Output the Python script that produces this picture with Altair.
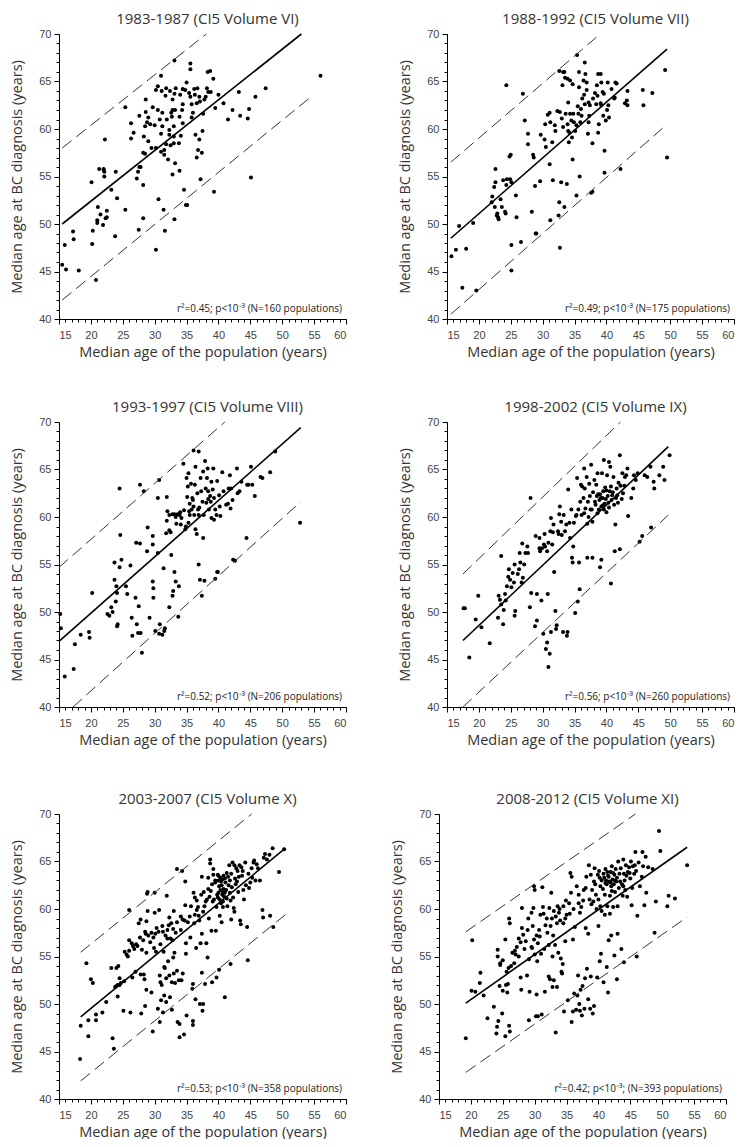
import altair as alt
import pandas as pd

W, H = 287, 285

X_TITLE = "Median age of the population (years)"
Y_TITLE = "Median age at BC diagnosis (years)"
X_MAJOR = [15, 20, 25, 30, 35, 40, 45, 50, 55, 60]
Y_MAJOR = [40, 45, 50, 55, 60, 65, 70]
X_MINOR = list(range(15, 61))
Y_MINOR = list(range(40, 71))

TITLES = ["1983-1987 (CI5 Volume VI)", "1988-1992 (CI5 Volume VII)",
          "1993-1997 (CI5 Volume VIII)", "1998-2002 (CI5 Volume IX)",
          "2003-2007 (CI5 Volume X)", "2008-2012 (CI5 Volume XI)"]
NOTES = ["r\u00b2=0.45; p<10\u207b\u00b3 (N=160 populations)",
         "r\u00b2=0.49; p<10\u207b\u00b3 (N=175 populations)",
         "r\u00b2=0.52; p<10\u207b\u00b3 (N=206 populations)",
         "r\u00b2=0.56; p<10\u207b\u00b3 (N=260 populations)",
         "r\u00b2=0.53; p<10\u207b\u00b3 (N=358 populations)",
         "r\u00b2=0.42; p<10\u207b\u00b3; (N=393 populations)"]

# regression line and prediction band end points (x1, y1, x2, y2)
FIT = [(15.5, 50.0, 53.0, 70.0), (15.6, 48.5, 49.5, 68.4), (15.0, 46.9, 52.9, 69.4),
       (17.5, 47.0, 49.7, 67.4), (18.4, 48.65, 50.5, 66.4), (19.2, 50.1, 53.9, 66.5)]
UPPER = [(15.5, 58.0, 38.1, 70.0), (15.6, 56.5, 39.0, 70.0), (15.0, 54.7, 41.0, 70.0),
         (17.5, 54.0, 42.2, 70.0), (18.4, 55.45, 45.2, 70.0), (19.2, 57.6, 45.8, 70.0)]
LOWER = [(15.5, 42.0, 54.7, 63.5), (15.6, 40.5, 49.5, 60.5), (17.2, 40.0, 52.9, 61.6),
         (17.5, 40.0, 49.7, 60.2), (18.4, 41.9, 50.5, 59.4), (19.2, 42.8, 53.9, 59.15)]

P1 = [(15.5,45.7),(16.1,45.2),(15.9,47.8),(17.2,49.2),(17.3,48.4),(18.1,45.1),(20.8,44.1),(20.2,47.9),(20.3,49.3),(20.1,54.4),
(21.0,50.1),(21.1,51.8),(21.0,50.4),(21.5,51.0),(21.3,55.8),(22.0,55.8),(22.0,55.7),(22.1,55.5),(22.1,55.0),(22.2,58.9),
(21.9,49.9),(22.3,50.6),(22.5,50.7),(22.5,51.4),(23.2,53.6),(23.9,55.5),(23.8,48.7),(24.1,52.7),(25.4,62.3),(25.4,51.5),
(26.3,60.6),(26.3,59.0),(26.7,59.6),(27.2,54.8),(27.4,55.5),(27.6,56.0),(27.8,56.0),(27.6,61.4),(27.5,49.4),(28.2,54.1),
(28.2,50.6),(28.2,57.5),(28.5,57.4),(28.3,59.2),(28.5,60.3),(28.6,63.1),(28.6,61.8),(28.8,60.7),(29.0,58.7),(29.0,61.2),
(29.3,60.5),(29.5,58.0),(29.7,62.3),(30.0,60.4),(30.2,58.0),(30.2,47.3),(30.2,64.1),(30.5,64.5),(30.5,62.0),(30.6,52.6),
(30.8,61.0),(31.0,57.6),(31.0,59.5),(31.0,65.6),(31.1,64.0),(31.2,61.7),(31.2,60.3),(31.4,51.5),(31.5,57.8),(31.5,57.3),
(31.6,49.3),(31.7,63.5),(31.8,64.3),(31.8,58.4),(31.9,61.0),(32.1,56.8),(32.3,59.9),(32.3,59.4),(32.4,64.0),(32.5,58.3),
(32.6,61.7),(32.7,61.3),(32.8,55.2),(32.8,63.1),(32.8,62.0),(33.0,60.3),(33.0,59.2),(33.0,58.5),(33.1,67.2),(33.1,50.5),
(33.1,63.7),(33.2,56.4),(33.3,64.3),(33.2,62.0),(33.8,58.5),(33.9,55.6),(33.9,61.3),(34.0,63.6),(34.1,59.3),(34.3,62.0),
(34.4,62.6),(34.4,64.2),(34.4,60.6),(34.6,53.6),(34.8,64.1),(34.9,52.0),(35.1,52.0),(35.0,64.9),(35.4,63.8),(35.6,63.4),
(35.6,66.9),(35.6,66.3),(35.8,62.6),(35.8,61.2),(36.0,61.7),(36.2,64.2),(36.3,63.6),(36.4,59.4),(36.6,57.0),(36.6,62.7),
(36.7,64.3),(36.8,57.8),(37.0,58.9),(37.0,63.4),(37.1,62.9),(37.2,54.7),(37.4,57.5),(37.5,59.8),(37.6,61.6),(37.8,63.1),
(38.0,63.4),(38.2,64.3),(38.3,66.0),(38.4,63.9),(38.7,66.1),(38.8,63.9),(39.2,65.3),(39.3,53.4),(39.5,62.2),(40.0,63.6),
(40.8,62.7),(41.5,61.0),(42.2,62.0),(43.2,63.9),(43.4,61.4),(44.6,61.1),(44.8,62.1),(45.1,54.9),(45.8,63.4),(47.4,64.3),
(56.0,65.6)]

P2 = [(15.7,46.6),(16.4,47.3),(16.9,49.8),(17.4,43.3),(18.0,47.4),(19.1,50.1),(19.6,43.0),(22.0,52.3),(22.1,52.9),(22.4,53.9),
(22.6,54.4),(22.6,55.8),(22.5,51.8),(22.8,50.9),(22.9,51.1),(23.0,50.7),(23.1,50.5),(23.4,52.6),(23.6,51.8),(23.8,54.6),
(24.1,51.3),(24.2,51.1),(24.3,54.1),(24.4,54.7),(24.8,57.1),(25.0,57.3),(25.1,54.4),(25.1,47.8),(25.1,45.1),(24.9,54.7),
(24.3,64.6),(25.8,53.0),(25.9,50.7),(26.6,48.1),(26.9,63.7),(27.2,60.9),(27.7,59.5),(27.7,58.4),(28.3,51.3),(28.5,57.3),
(28.6,57.0),(28.8,54.0),(28.9,49.0),(29.0,49.0),(29.6,54.5),(29.7,59.4),(30.3,58.9),(30.4,60.5),(30.5,58.1),(30.8,61.5),
(31.1,61.7),(31.2,60.7),(31.2,50.4),(31.1,56.3),(31.5,58.6),(31.6,54.6),(31.9,60.4),(32.0,59.8),(32.3,61.9),(32.5,50.9),
(32.6,66.1),(32.6,52.3),(32.7,47.5),(32.7,61.8),(32.9,54.4),(33.0,61.1),(33.1,64.6),(33.2,66.0),(33.2,60.2),(33.4,51.8),
(33.4,66.0),(33.5,65.4),(33.6,61.6),(33.8,54.2),(33.9,65.3),(33.9,60.5),(34.0,62.8),(34.0,59.8),(34.1,58.6),(34.2,59.6),
(34.3,61.6),(34.3,65.1),(34.5,60.9),(34.6,59.1),(34.7,64.7),(34.7,56.8),(34.8,61.6),(34.9,60.7),(35.1,59.8),(35.3,60.4),
(35.3,53.0),(35.4,67.8),(35.5,62.4),(35.6,61.6),(35.7,66.0),(35.7,64.4),(35.8,55.0),(35.9,60.7),(36.0,62.1),(36.1,61.4),
(36.2,63.2),(36.4,65.1),(36.5,63.6),(36.6,67.0),(36.6,62.6),(36.7,65.8),(36.9,64.9),(36.9,64.1),(37.1,59.5),(37.2,60.7),
(37.2,62.8),(37.3,61.4),(37.4,62.5),(37.6,53.3),(37.8,53.4),(37.8,58.5),(37.9,63.2),(38.2,63.8),(38.4,62.6),(38.5,64.6),
(38.6,63.5),(38.7,59.6),(38.8,60.5),(38.7,65.8),(39.1,65.8),(39.1,62.7),(39.2,62.5),(39.2,64.9),(39.4,63.9),(39.5,61.4),
(39.6,63.7),(39.7,57.7),(39.7,55.4),(39.9,60.9),(40.1,62.0),(40.3,62.5),(40.4,61.2),(40.2,64.9),(40.8,64.2),(41.3,63.3),
(41.2,63.2),(41.4,64.9),(41.6,64.8),(42.2,55.8),(42.9,62.7),(43.2,63.0),(43.3,64.0),(43.3,62.5),(45.7,64.1),(45.8,62.5),
(47.2,63.8),(49.2,66.2),(49.5,57.0)]

P3 = [(15.2,49.8),(15.3,48.3),(15.9,43.2),(17.3,44.0),(17.5,46.6),(18.4,47.6),(19.7,47.9),(19.8,47.3),(20.2,52.0),(22.6,49.8),
(22.9,49.6),(23.2,50.5),(23.4,50.0),(23.7,55.2),(23.7,53.4),(23.9,51.1),(24.0,52.7),(24.1,48.5),(24.2,48.7),(24.1,52.0),
(24.5,54.7),(24.5,63.0),(24.6,58.1),(24.8,55.5),(25.5,52.7),(25.7,51.9),(26.2,54.9),(26.4,49.4),(26.5,47.5),(27.0,51.5),
(27.1,57.3),(27.2,48.7),(27.4,47.8),(27.5,50.6),(27.7,57.2),(27.7,63.4),(27.8,47.8),(28.0,45.7),(28.3,62.7),(28.8,56.4),
(28.9,58.9),(29.2,49.4),(29.7,58.0),(29.7,57.1),(29.7,53.2),(29.8,52.5),(29.8,51.5),(30.1,48.0),(30.5,56.2),(30.5,62.0),
(30.7,63.9),(30.7,47.7),(30.8,48.7),(31.2,47.6),(31.4,54.6),(31.5,48.0),(31.6,48.3),(31.8,58.3),(31.9,62.1),(31.9,59.6),
(32.0,60.6),(32.3,58.6),(32.3,50.5),(32.5,58.4),(32.6,56.0),(32.8,51.7),(32.9,52.2),(33.1,54.2),(33.1,60.3),(33.3,53.2),
(33.4,59.3),(33.6,60.3),(33.7,49.5),(33.8,52.7),(33.9,60.2),(34.1,59.2),(34.2,59.9),(34.5,65.6),(34.6,60.7),(34.8,58.7),
(34.9,59.0),(35.0,64.1),(35.1,62.1),(35.2,63.2),(35.3,59.4),(35.3,64.6),(35.4,60.6),(35.5,60.2),(35.5,61.4),(35.7,63.5),
(35.8,60.8),(35.9,62.0),(36.1,61.1),(36.1,67.0),(36.2,60.2),(36.3,63.4),(36.4,58.7),(36.4,65.3),(36.6,58.2),(36.7,62.5),
(36.8,60.8),(36.9,60.2),(36.9,66.9),(36.9,55.0),(37.1,53.4),(37.2,64.1),(37.3,62.7),(37.4,51.7),(37.5,61.6),(37.6,57.8),
(37.6,64.8),(37.7,60.2),(37.8,53.3),(37.9,65.9),(38.0,63.0),(38.1,61.5),(38.2,64.1),(38.3,65.1),(38.4,62.7),(38.5,60.8),
(38.7,62.2),(38.8,61.6),(38.9,63.7),(38.9,59.9),(39.1,62.9),(39.2,65.1),(39.3,59.7),(39.3,62.0),(39.5,53.5),(39.5,60.8),
(39.7,60.2),(39.8,63.8),(39.8,54.2),(39.9,54.2),(40.1,62.3),(40.2,61.1),(40.3,60.1),(40.6,64.7),(40.8,62.7),(41.2,61.3),
(41.5,61.4),(41.6,63.0),(41.8,64.4),(41.9,60.9),(42.0,63.0),(42.2,61.8),(42.3,55.5),(42.6,55.4),(42.9,65.1),(43.0,62.5),
(43.3,62.7),(44.4,57.8),(43.6,63.7),(44.5,63.4),(44.7,63.4),(45.1,65.3),(45.3,63.4),(45.7,62.2),(46.6,64.2),(46.9,64.1),
(48.1,64.7),(48.9,66.9),(52.8,59.4),(32.3,60.2),(32.8,60.3),(33.3,60.0),(34.0,60.5),(36.0,61.8),(37.0,61.0),(38.4,61.9)]

P4 = [(17.6,50.4),(17.8,50.4),(18.5,45.2),(19.5,49.2),(19.9,51.7),(20.4,48.4),(21.7,46.7),(23.0,49.4),(23.1,51.7),(23.3,51.3),
(23.5,50.8),(23.8,48.7),(23.9,50.2),(24.2,51.2),(24.1,51.9),(23.5,55.9),(24.4,52.7),(24.6,53.7),(24.7,54.5),(24.9,53.4),
(25.1,52.6),(25.3,54.1),(25.5,53.1),(25.6,49.6),(25.7,50.1),(25.6,55.0),(26.1,54.0),(26.3,54.5),(26.4,56.2),(26.5,55.2),
(26.7,53.1),(26.8,57.2),(26.9,53.6),(27.1,55.0),(27.3,56.2),(27.6,56.9),(27.7,56.2),(28.0,50.5),(28.1,62.0),(28.2,52.0),
(28.8,48.5),(28.9,58.0),(29.1,49.1),(29.1,51.9),(29.5,56.7),(29.5,57.8),(29.6,56.4),(29.8,51.2),(29.9,56.7),(30.1,47.7),
(30.2,57.1),(30.3,58.2),(30.4,56.9),(30.5,46.1),(30.7,46.8),(30.7,56.4),(30.8,51.9),(30.9,57.3),(30.9,44.2),(31.1,45.6),
(31.2,58.5),(31.3,47.9),(31.3,59.9),(31.5,57.1),(31.6,58.4),(31.7,59.2),(31.8,54.2),(32.0,50.1),(32.1,48.2),(32.2,48.6),
(32.4,58.5),(32.5,58.2),(32.6,60.3),(32.7,61.1),(32.9,59.5),(33.0,58.1),(33.2,47.9),(33.3,60.2),(33.5,58.5),(33.7,59.2),
(33.8,47.5),(33.9,47.9),(34.0,62.9),(34.2,59.4),(34.3,57.8),(34.5,60.8),(34.6,55.7),(34.7,55.2),(34.8,56.9),(34.9,59.4),
(35.1,49.9),(35.2,60.1),(35.3,60.2),(35.4,64.1),(35.6,60.8),(35.5,51.1),(35.7,55.2),(35.8,52.4),(35.9,61.6),(36.0,63.4),
(36.1,60.2),(36.2,63.2),(36.4,62.0),(36.5,65.1),(36.5,60.4),(36.6,63.0),(36.7,60.9),(36.9,64.2),(37.0,59.3),(37.0,55.7),
(37.1,61.6),(37.2,60.0),(37.3,63.5),(37.4,62.2),(37.5,60.8),(37.6,65.5),(37.7,60.8),(37.8,59.5),(37.8,55.7),(37.9,62.6),
(38.1,63.9),(38.2,61.6),(38.3,61.3),(38.4,63.4),(38.5,62.2),(38.6,60.4),(38.6,64.6),(38.7,62.4),(38.8,60.8),(39.0,62.4),
(39.0,54.7),(39.1,62.0),(39.2,55.5),(39.2,61.1),(39.3,64.6),(39.4,62.0),(39.5,62.7),(39.6,66.0),(39.6,60.8),(39.8,63.1),
(39.9,61.9),(40.0,60.5),(40.1,64.4),(40.2,62.2),(40.3,61.5),(40.4,65.8),(40.5,62.7),(40.6,65.3),(40.7,53.0),(40.8,61.8),
(40.9,62.3),(41.1,64.2),(41.2,61.3),(41.3,56.4),(41.4,59.2),(41.6,63.0),(41.7,62.3),(41.8,61.5),(42.1,66.5),(42.1,56.6),
(42.2,63.3),(42.5,64.6),(42.6,62.5),(42.8,63.3),(42.9,64.2),(43.1,64.4),(43.3,65.1),(43.4,60.1),(43.9,62.0),(44.2,63.0),
(44.3,64.4),(44.6,63.9),(44.9,64.6),(45.2,57.4),(45.6,58.0),(46.0,64.4),(46.4,64.2),(46.9,65.3),(47.0,58.9),(47.4,63.7),
(47.5,63.0),(48.3,64.4),(48.9,65.3),(49.1,63.9),(49.9,66.5),(39.7,61.4),(40.0,62.8),(40.4,61.0),(41.0,62.6),(41.5,62.0),
(38.9,61.8),(39.4,61.2),(40.7,63.2),(41.9,63.6),(42.4,61.9)]

P5 = [(18.3,44.2),(18.4,47.7),(19.3,54.3),(19.6,48.3),(19.6,46.6),(20.0,52.6),(20.3,52.2),(20.8,48.9),(20.8,48.3),(21.8,49.1),
(22.4,50.2),(23.2,53.8),(23.4,46.4),(23.6,45.3),(23.8,51.8),(24.0,51.9),(24.0,53.8),(24.2,52.0),(24.2,50.8),(24.3,54.0),
(24.5,52.7),(24.5,52.0),(24.7,52.2),(25.1,49.3),(25.2,52.4),(25.3,55.5),(25.6,55.2),(25.8,55.0),(26.0,59.9),(26.0,56.7),
(26.0,55.6),(26.2,49.1),(26.4,56.4),(26.5,52.8),(26.6,56.1),(26.8,55.8),(27.0,53.4),(27.1,56.3),(27.3,56.1),(27.7,57.0),
(27.8,58.9),(27.8,53.1),(27.9,49.0),(28.0,55.7),(28.2,56.7),(28.3,53.1),(28.4,52.6),(28.5,49.8),(28.5,57.6),(28.6,57.4),
(28.7,58.7),(28.7,55.4),(28.7,51.5),(28.8,61.6),(28.9,61.8),(28.9,59.8),(29.0,57.2),(29.3,56.5),(29.5,51.2),(29.7,47.1),
(29.8,57.0),(29.9,55.9),(30.0,61.7),(30.0,59.6),(30.1,57.4),(30.2,55.5),(30.5,49.5),(30.6,57.6),(30.7,59.9),(30.8,53.0),
(30.8,48.1),(30.9,52.3),(31.0,50.4),(31.1,52.0),(31.2,58.2),(31.3,57.6),(31.3,49.1),(31.4,55.5),(31.5,53.9),(31.5,50.9),
(31.6,53.8),(31.7,57.2),(31.8,52.7),(31.8,50.2),(31.9,61.4),(32.0,57.8),(32.1,54.5),(32.2,58.3),(32.3,59.1),(32.3,53.0),
(32.4,50.7),(32.5,56.9),(32.6,58.5),(32.7,52.3),(32.7,49.4),(32.8,56.7),(32.9,54.9),(33.0,53.2),(33.0,59.8),(33.1,55.4),
(33.2,52.2),(33.3,57.5),(33.5,64.2),(33.5,53.5),(33.6,48.1),(33.8,52.5),(33.9,47.9),(33.9,46.5),(34.1,59.2),(34.1,57.8),
(34.2,52.5),(34.3,64.0),(34.4,53.2),(34.6,46.8),(34.7,58.8),(34.8,62.9),(34.8,60.4),(34.9,56.4),(34.9,55.3),(35.0,48.8),
(35.2,58.6),(35.6,57.0),(35.7,60.3),(35.9,51.6),(36.0,52.1),(36.0,48.2),(36.0,47.8),(36.1,61.7),(36.2,58.5),(36.3,59.4),
(36.4,50.5),(36.5,55.9),(36.6,60.9),(36.8,60.2),(36.9,59.3),(37.0,58.8),(37.1,50.0),(37.2,56.4),(37.4,57.4),(37.4,63.4),
(37.4,53.3),(37.5,49.3),(37.6,50.0),(37.6,59.7),(37.7,61.8),(37.9,52.1),(38.0,60.8),(38.1,56.4),(38.2,61.0),(38.3,54.9),
(38.4,63.3),(38.4,62.1),(38.5,59.0),(38.6,61.3),(38.7,65.2),(38.7,64.8),(38.9,57.7),(39.0,62.6),(39.0,52.3),(39.1,60.8),
(39.2,64.2),(39.3,61.0),(39.5,62.8),(39.6,57.7),(39.7,52.8),(39.7,60.2),(39.8,61.5),(39.9,63.6),(40.0,61.7),(40.0,63.0),
(40.1,53.6),(40.1,62.4),(40.2,61.0),(40.2,59.3),(40.3,63.3),(40.4,62.9),(40.4,60.6),(40.5,62.5),(40.5,58.6),(40.6,63.1),
(40.7,61.8),(40.7,60.2),(40.8,63.5),(40.8,62.1),(40.9,61.3),(41.0,63.2),(41.0,50.7),(41.1,62.8),(41.2,62.0),(41.3,61.1),
(41.4,60.3),(41.5,63.4),(41.6,62.5),(41.7,64.6),(41.8,61.7),(41.9,54.2),(42.0,58.9),(42.0,63.7),(42.1,62.3),(42.2,64.9),
(42.3,61.2),(42.4,60.1),(42.5,59.7),(42.6,63.2),(42.7,62.6),(42.8,64.3),(43.0,64.0),(43.1,61.8),(43.2,63.4),(43.3,64.6),
(43.4,58.8),(43.5,58.4),(43.6,64.4),(43.7,63.5),(43.8,64.0),(44.0,61.0),(44.2,64.9),(44.3,62.5),(44.5,58.1),(44.6,54.6),
(44.7,63.7),(45.0,62.8),(45.2,64.3),(45.3,63.3),(45.5,64.9),(45.6,65.1),(45.8,63.0),(46.0,64.7),(46.2,64.3),(46.5,63.0),
(46.9,59.9),(47.0,59.1),(47.1,65.4),(47.3,65.8),(47.6,65.2),(48.0,65.7),(48.1,59.3),(48.5,66.4),(48.6,58.1),(49.5,63.9),
(50.3,66.3),(39.5,63.0),(40.0,63.5),(40.3,62.0),(40.6,61.5),(41.0,61.7),(41.3,63.8),(41.8,63.0),(42.5,64.6),(42.9,62.9),
(39.2,63.6),(38.8,61.9),(39.9,61.2),(40.7,60.8),(41.9,60.9),(43.9,62.0),(44.8,62.2),(37.8,60.3),(37.3,61.5),(36.6,59.9),
(36.3,61.2),(35.5,59.2),(34.4,58.9),(33.5,58.6),(32.9,57.9),(32.0,56.9),(30.9,56.3),(30.3,58.0),(29.5,57.5),(27.5,58.5)]

P6 = [(19.2,46.4),(20.2,56.7),(20.1,51.4),(20.7,51.3),(21.5,53.3),(21.4,52.2),(22.0,50.9),(22.6,48.5),(23.6,49.7),(24.0,46.9),
(24.1,47.6),(24.2,55.7),(24.2,55.0),(24.3,48.2),(24.6,54.3),(24.6,54.1),(24.5,51.9),(24.9,49.0),(25.0,54.6),(25.0,51.4),
(25.4,46.6),(25.4,56.8),(25.5,52.0),(25.6,53.4),(25.7,51.2),(25.8,52.1),(25.9,53.8),(26.0,47.7),(26.1,47.1),(26.0,59.0),
(26.1,58.5),(26.3,54.0),(26.5,55.4),(26.8,54.3),(27.0,55.2),(27.2,56.0),(27.5,56.9),(27.5,55.0),(27.8,52.8),(27.9,51.5),
(28.0,60.1),(28.0,58.0),(28.2,57.3),(28.4,55.8),(28.6,56.6),(28.8,53.0),(29.0,59.0),(29.1,54.7),(29.1,48.3),(29.2,51.3),
(29.5,56.0),(29.5,59.6),(29.6,55.9),(29.8,60.1),(29.9,56.8),(29.9,62.4),(30.0,62.0),(30.0,55.2),(30.2,48.7),(30.3,51.0),
(30.3,57.2),(30.4,54.5),(30.5,48.7),(30.5,56.4),(30.8,57.1),(30.9,59.4),(31.0,55.3),(31.1,48.9),(31.2,62.3),(31.3,60.2),
(31.5,55.8),(31.6,51.3),(31.7,58.3),(31.9,59.0),(32.0,57.5),(32.2,52.9),(32.2,56.2),(32.4,52.6),(32.5,58.2),(32.6,61.7),
(32.7,59.0),(32.8,55.0),(32.8,51.8),(32.9,57.2),(33.0,52.5),(33.0,59.8),(33.2,56.2),(33.3,47.0),(33.3,59.2),(33.5,51.8),
(33.5,58.5),(33.6,60.3),(33.7,55.4),(33.8,59.6),(34.0,58.8),(34.1,54.8),(34.2,53.4),(34.3,53.2),(34.4,54.2),(34.5,58.5),
(34.5,60.3),(34.6,49.2),(34.8,59.0),(34.8,56.6),(35.0,59.4),(35.2,50.4),(35.5,59.5),(35.6,63.8),(35.7,61.7),(35.8,63.4),
(35.8,48.1),(36.0,56.8),(36.0,49.2),(36.1,60.0),(36.2,51.1),(36.3,58.1),(36.5,49.4),(36.6,62.4),(36.7,50.9),(36.8,53.0),
(36.9,60.6),(37.0,50.0),(37.1,59.6),(37.1,49.3),(37.2,51.5),(37.3,60.2),(37.4,48.8),(37.5,51.9),(37.7,62.0),(37.8,49.5),
(37.9,52.7),(38.0,62.2),(38.0,58.0),(38.1,63.4),(38.2,53.7),(38.4,50.5),(38.4,57.4),(38.5,64.6),(38.6,61.0),(38.7,49.5),
(38.8,52.9),(38.8,63.6),(39.0,62.0),(39.1,49.0),(39.2,60.8),(39.3,49.8),(39.4,64.3),(39.5,62.6),(39.6,61.5),(39.7,60.0),
(39.8,52.8),(39.9,63.6),(40.0,58.2),(40.0,61.0),(40.1,64.0),(40.2,54.5),(40.3,60.3),(40.3,62.4),(40.4,55.3),(40.5,63.0),
(40.5,59.8),(40.7,62.1),(40.8,52.3),(40.9,63.3),(41.0,61.5),(41.0,59.4),(41.1,64.2),(41.2,63.0),(41.3,53.9),(41.3,62.6),
(41.4,60.3),(41.5,51.2),(41.5,63.5),(41.6,56.7),(41.7,62.9),(41.8,61.4),(41.8,59.5),(41.9,63.9),(42.0,62.4),(42.0,57.2),
(42.1,64.5),(42.2,63.1),(42.3,60.2),(42.4,62.6),(42.5,55.1),(42.5,63.6),(42.6,61.8),(42.7,64.2),(42.8,62.9),(42.9,52.6),
(42.9,63.3),(43.0,57.4),(43.0,60.3),(43.1,65.0),(43.2,62.2),(43.3,63.7),(43.5,64.3),(43.6,55.8),(43.7,62.6),(43.8,61.4),
(43.9,65.2),(44.0,63.7),(44.0,54.4),(44.1,63.0),(44.2,62.0),(44.3,64.6),(44.5,61.3),(44.6,63.9),(44.8,64.4),(45.0,63.2),
(45.1,65.0),(45.2,60.4),(45.3,62.2),(45.6,63.7),(45.8,66.0),(45.9,64.0),(46.0,55.0),(46.1,59.3),(46.3,64.9),(46.5,62.4),
(46.8,63.4),(46.9,66.0),(47.0,64.5),(47.2,60.4),(47.4,65.5),(47.5,61.7),(47.8,64.4),(48.5,64.2),(48.8,57.5),(49.0,60.8),
(49.5,68.2),(49.7,66.1),(50.8,60.3),(51.0,61.4),(52.0,61.1),(53.9,64.6),(41.1,62.7),(41.6,63.4),(41.9,62.8),(42.3,63.8),
(42.6,63.0),(42.1,61.9),(41.4,63.9),(40.8,63.7),(43.4,62.9),(43.9,62.4),(44.4,63.5),(45.4,64.5),(44.9,63.8),(45.7,64.6),
(40.2,63.3),(39.3,62.9),(38.9,60.5),(37.6,60.9),(36.9,61.5),(35.4,60.6),(34.9,60.9),(33.9,60.0),(32.3,60.1),(31.4,59.5),
(30.7,57.8),(29.7,58.2),(28.9,57.8),(27.8,56.5),(26.9,55.6)]

POINTS = [P1, P2, P3, P4, P5, P6]

FONT = "Open Sans"
LABEL_EXPR = "datum.value % 5 === 0 ? datum.label : ''"


def panel(i):
    xs = alt.Scale(domain=[15, 60], nice=False, zero=False)
    ys = alt.Scale(domain=[40, 70], nice=False, zero=False)
    # axis with every unit tick (short) and labels every 5
    main_x = alt.Axis(values=X_MINOR, labelExpr=LABEL_EXPR, labelOverlap=False,
                      title=X_TITLE, tickSize=3, labelPadding=7, titlePadding=5,
                      orient="bottom", grid=False)
    main_y = alt.Axis(values=Y_MINOR, labelExpr=LABEL_EXPR, labelOverlap=False,
                      title=Y_TITLE, tickSize=3, labelPadding=5, titlePadding=14,
                      orient="left", grid=False)
    # longer major ticks
    major_x = alt.Axis(values=X_MAJOR, labels=False, domain=False, title=None,
                       tickSize=5, orient="bottom", grid=False)
    major_y = alt.Axis(values=Y_MAJOR, labels=False, domain=False, title=None,
                       tickSize=5, orient="left", grid=False)

    pts = pd.DataFrame(POINTS[i], columns=["x", "y"])
    f, u, l = FIT[i], UPPER[i], LOWER[i]
    fit_df = pd.DataFrame({"x": [f[0], f[2]], "y": [f[1], f[3]]})
    band_df = pd.DataFrame({"k": ["u", "u", "l", "l"],
                            "x": [u[0], u[2], l[0], l[2]],
                            "y": [u[1], u[3], l[1], l[3]]})

    dots = alt.Chart(pts).mark_circle(size=16, color="black", opacity=1).encode(
        x=alt.X("x:Q", scale=xs, axis=main_x),
        y=alt.Y("y:Q", scale=ys, axis=main_y))
    fit = alt.Chart(fit_df).mark_line(color="black", strokeWidth=1.6).encode(
        x=alt.X("x:Q", scale=xs, axis=major_x),
        y=alt.Y("y:Q", scale=ys, axis=major_y))
    band = alt.Chart(band_df).mark_line(color="#333333", strokeWidth=1,
                                        strokeDash=[12, 6]).encode(
        x=alt.X("x:Q", scale=xs, axis=None),
        y=alt.Y("y:Q", scale=ys, axis=None),
        detail="k:N")
    note = alt.Chart(pd.DataFrame({"t": [NOTES[i]]})).mark_text(
        align="right", baseline="alphabetic", font=FONT, fontSize=10,
        color="#222222").encode(text="t:N", x=alt.value(W - 4), y=alt.value(H - 7))
    head = alt.Chart(pd.DataFrame({"t": [TITLES[i]]})).mark_text(
        align="center", baseline="alphabetic", font=FONT, fontSize=15,
        fontWeight="normal", color="#333333").encode(
        text="t:N", x=alt.value(W / 2 + 5), y=alt.value(-10))

    return alt.layer(dots, fit, band, note, head).resolve_axis(
        x="independent", y="independent").properties(width=W, height=H)


row1 = alt.hconcat(panel(0), panel(1), spacing=50)
row2 = alt.hconcat(panel(2), panel(3), spacing=50)
row3 = alt.hconcat(panel(4), panel(5), spacing=42)

chart = alt.vconcat(row1, alt.vconcat(row2, row3, spacing=45), spacing=41).properties(
    padding={"left": 1, "top": 4, "right": 0, "bottom": 0}
).configure_view(strokeWidth=0).configure_axis(
    domainColor="black", domainWidth=1, tickColor="black", tickWidth=1,
    labelFont="Liberation Sans", labelFontSize=11, labelColor="#444444",
    titleFont=FONT, titleFontSize=14.5, titleFontWeight=400, titleColor="#333333"
)

chart.save("out.html", embed_options={"renderer": "svg", "actions": False})
